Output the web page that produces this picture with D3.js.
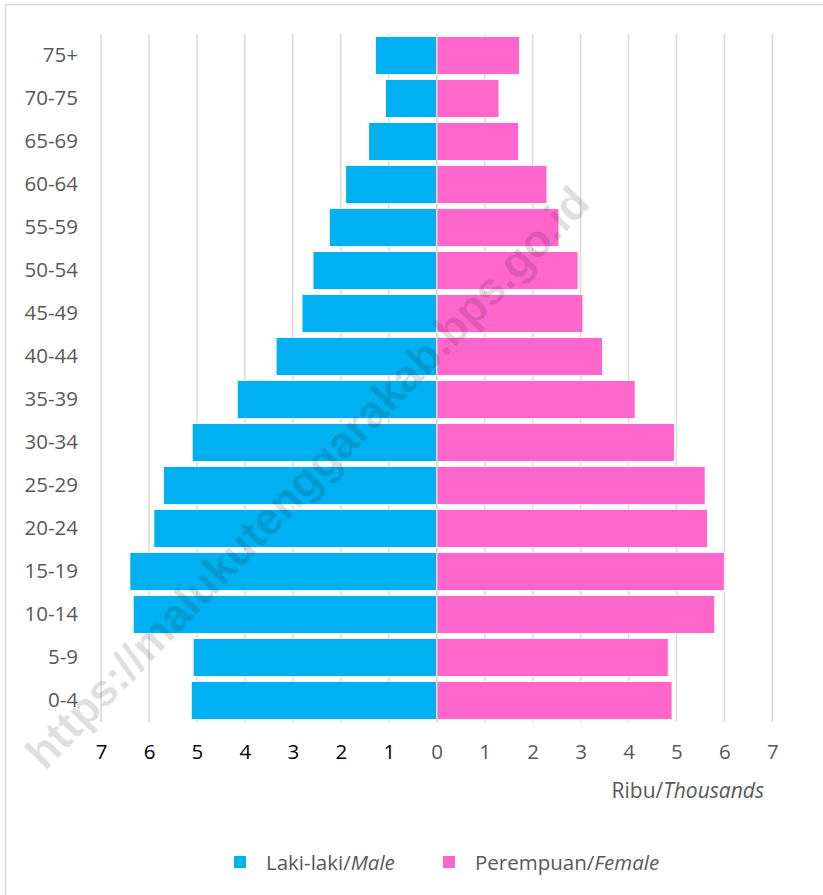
<!DOCTYPE html>
<html>
<head>
<meta charset="utf-8">
<script src="https://cdn.jsdelivr.net/npm/d3@7"></script>
<style>
  html, body { margin: 0; padding: 0; background: #fff; }
  svg { display: block; font-family: "Open Sans", "Noto Sans", sans-serif; }
</style>
</head>
<body>
<div id="chart"></div>
<script>
const ageGroups = ["75+", "70-75", "65-69", "60-64", "55-59", "50-54", "45-49", "40-44",
                   "35-39", "30-34", "25-29", "20-24", "15-19", "10-14", "5-9", "0-4"];
const maleValues = [1.28, 1.07, 1.42, 1.90, 2.24, 2.58, 2.81, 3.35,
                    4.16, 5.10, 5.70, 5.90, 6.40, 6.33, 5.08, 5.12];
const femaleValues = [1.73, 1.30, 1.71, 2.30, 2.55, 2.95, 3.05, 3.46,
                      4.14, 4.96, 5.60, 5.65, 6.00, 5.80, 4.83, 4.91];
const tickValues = [0, 1, 2, 3, 4, 5, 6, 7];
const seriesNames = [["Laki-laki/", "Male"], ["Perempuan/", "Female"]];
const axisUnit = ["Ribu/", "Thousands"];
const watermark = "https://malukutenggarakab.bps.go.id";

const W = 823, H = 895;
const maleColor = "#00B0F0", femaleColor = "#FF66CC";
const gridColor = "#d9d9d9", textColor = "#595959";

const svg = d3.select("#chart").append("svg").attr("width", W).attr("height", H);

// chart border (left and top only visible)
svg.append("path")
  .attr("d", `M5.5,${H + 5} L5.5,4.5 L${W + 5},4.5`)
  .attr("fill", "none").attr("stroke", gridColor).attr("stroke-width", 1.5);

const zeroX = 436.7, unit = 47.95;
const xL = d3.scaleLinear().domain([0, 7]).range([zeroX, zeroX - 7 * unit]);
const xR = d3.scaleLinear().domain([0, 7]).range([zeroX, zeroX + 7 * unit]);
const y = d3.scaleBand().domain(ageGroups).range([34, 722]).paddingInner(0.11).paddingOuter(0.055);

// gridlines
const grid = svg.append("g");
tickValues.forEach(v => {
  [xL(v), xR(v)].forEach(px => {
    grid.append("line").attr("x1", px).attr("x2", px).attr("y1", 34).attr("y2", 722)
      .attr("stroke", gridColor).attr("stroke-width", 1.5);
  });
});

// bars
const data = ageGroups.map((a, i) => ({ age: a, m: maleValues[i], f: femaleValues[i] }));
svg.append("g").selectAll("rect").data(data).join("rect")
  .attr("x", d => xL(d.m)).attr("width", d => xL(0) - xL(d.m))
  .attr("y", d => y(d.age)).attr("height", y.bandwidth())
  .attr("fill", maleColor).attr("stroke", "#fff").attr("stroke-width", 1);
svg.append("g").selectAll("rect").data(data).join("rect")
  .attr("x", d => xR(0)).attr("width", d => xR(d.f) - xR(0))
  .attr("y", d => y(d.age)).attr("height", y.bandwidth())
  .attr("fill", femaleColor).attr("stroke", "#fff").attr("stroke-width", 1);

// zero line on top
svg.append("line").attr("x1", zeroX).attr("x2", zeroX).attr("y1", 34).attr("y2", 722)
  .attr("stroke", gridColor).attr("stroke-width", 1.5);

const FS = "20.5px";

// y axis labels
const yAxis = d3.axisLeft(y).tickSize(0).tickPadding(0);
const gy = svg.append("g").attr("transform", "translate(78,0)").call(yAxis);
gy.select(".domain").remove();
gy.selectAll("text").attr("fill", textColor).style("font-size", FS)
  .style("font-family", '"Open Sans", sans-serif');

// x axes
function styleX(g, color) {
  g.select(".domain").remove();
  g.selectAll("text").attr("fill", color).style("font-size", FS)
   .style("font-family", '"Open Sans", sans-serif');
}
const gxL = svg.append("g").attr("transform", "translate(0,744)")
  .call(d3.axisBottom(xL).tickValues(tickValues.filter(v => v > 0)).tickSize(0).tickPadding(0).tickFormat(d3.format("d")));
styleX(gxL, "#000");
const gxR = svg.append("g").attr("transform", "translate(0,744)")
  .call(d3.axisBottom(xR).tickValues(tickValues).tickSize(0).tickPadding(0).tickFormat(d3.format("d")));
styleX(gxR, textColor);

// unit label
const unitText = svg.append("text").attr("x", 764).attr("y", 798).attr("text-anchor", "end")
  .attr("fill", textColor).style("font-size", "21px");
unitText.append("tspan").text(axisUnit[0]);
unitText.append("tspan").style("font-style", "italic").text(axisUnit[1]);

// legend
const legendItems = [
  { name: seriesNames[0], color: maleColor, x: 234 },
  { name: seriesNames[1], color: femaleColor, x: 443 }
];
legendItems.forEach(it => {
  svg.append("rect").attr("x", it.x).attr("y", 856).attr("width", 12).attr("height", 12).attr("fill", it.color);
  const t = svg.append("text").attr("x", it.x + 32).attr("y", 870)
    .attr("fill", textColor).style("font-size", "20.5px");
  t.append("tspan").text(it.name[0]);
  t.append("tspan").style("font-style", "italic").text(it.name[1]);
});

// watermark
svg.append("text")
  .attr("transform", "translate(310,480) rotate(-46)")
  .attr("text-anchor", "middle").attr("dominant-baseline", "middle")
  .attr("fill", "#000").attr("fill-opacity", 0.12)
  .style("font-family", '"Liberation Sans", Arial, sans-serif')
  .style("font-weight", "bold").style("font-size", "45px")
  .text(watermark);
</script>
</body>
</html>
